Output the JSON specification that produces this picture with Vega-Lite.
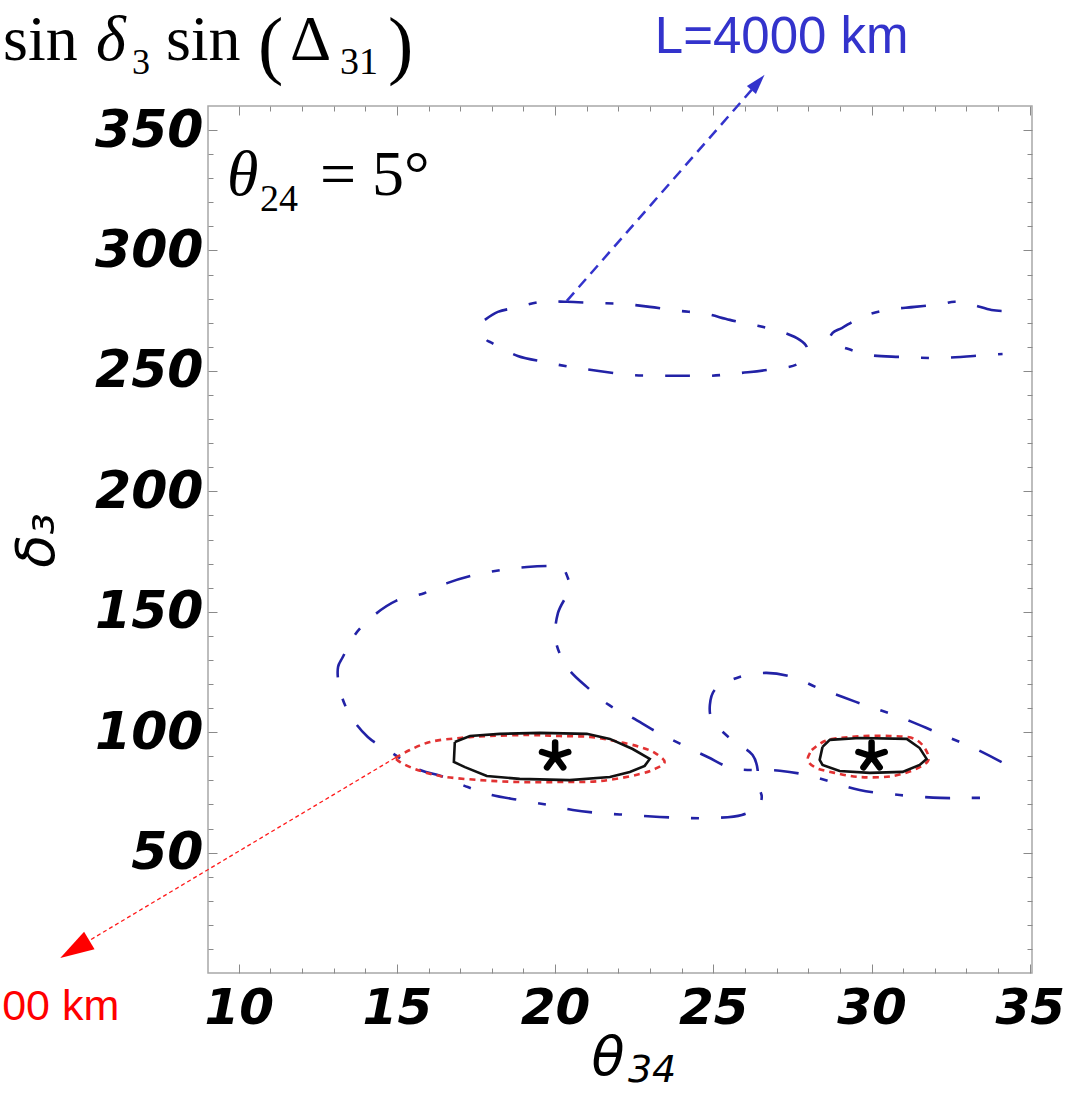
{
  "$schema": "https://vega.github.io/schema/vega-lite/v6.json",
  "width": 824,
  "height": 867,
  "autosize": {"type": "none"},
  "padding": {"left": 208, "top": 106, "right": 52, "bottom": 121},
  "background": "white",
  "config": {
    "view": {"stroke": "#a8a8a8", "strokeWidth": 1.5},
    "axis": {"domain": false, "grid": false, "tickColor": "#8a8a8a", "tickWidth": 1}
  },
  "datasets": {
    "blue": [
      {"c": "c1", "i": 0, "x": 34.11, "y": 87.6}, {"c": "c1", "i": 1, "x": 33.16, "y": 93.9}, {"c": "c1", "i": 2, "x": 32.40, "y": 98.0},
      {"c": "c1", "i": 3, "x": 31.58, "y": 102.6}, {"c": "c1", "i": 4, "x": 30.73, "y": 107.1}, {"c": "c1", "i": 5, "x": 29.94, "y": 110.5},
      {"c": "c1", "i": 6, "x": 29.09, "y": 114.6}, {"c": "c1", "i": 7, "x": 28.30, "y": 118.4}, {"c": "c1", "i": 8, "x": 27.51, "y": 122.9},
      {"c": "c1", "i": 9, "x": 26.65, "y": 124.6}, {"c": "c1", "i": 10, "x": 25.74, "y": 122.5}, {"c": "c1", "i": 11, "x": 25.04, "y": 117.5},
      {"c": "c1", "i": 12, "x": 24.89, "y": 111.3}, {"c": "c1", "i": 13, "x": 24.95, "y": 105.5}, {"c": "c1", "i": 14, "x": 25.58, "y": 96.8},
      {"c": "c1", "i": 15, "x": 26.24, "y": 90.5}, {"c": "c1", "i": 16, "x": 26.40, "y": 84.3}, {"c": "c1", "i": 17, "x": 26.37, "y": 79.3},
      {"c": "c1", "i": 18, "x": 26.53, "y": 73.1}, {"c": "c1", "i": 19, "x": 26.40, "y": 68.9}, {"c": "c1", "i": 20, "x": 25.90, "y": 65.6},
      {"c": "c1", "i": 21, "x": 25.11, "y": 64.4}, {"c": "c1", "i": 22, "x": 24.03, "y": 64.4}, {"c": "c1", "i": 23, "x": 23.31, "y": 64.8},
      {"c": "c1", "i": 24, "x": 22.36, "y": 65.6}, {"c": "c1", "i": 25, "x": 21.41, "y": 66.4}, {"c": "c1", "i": 26, "x": 20.56, "y": 67.7},
      {"c": "c1", "i": 27, "x": 19.77, "y": 69.8}, {"c": "c1", "i": 28, "x": 18.88, "y": 71.8}, {"c": "c1", "i": 29, "x": 18.00, "y": 73.9},
      {"c": "c1", "i": 30, "x": 17.24, "y": 77.2}, {"c": "c1", "i": 31, "x": 16.39, "y": 81.8}, {"c": "c1", "i": 32, "x": 15.73, "y": 84.3},
      {"c": "c1", "i": 33, "x": 14.84, "y": 91.4}, {"c": "c1", "i": 34, "x": 14.08, "y": 98.0}, {"c": "c1", "i": 35, "x": 13.52, "y": 107.1},
      {"c": "c1", "i": 36, "x": 13.20, "y": 117.5}, {"c": "c1", "i": 37, "x": 13.14, "y": 127.1}, {"c": "c1", "i": 38, "x": 13.29, "y": 131.2},
      {"c": "c1", "i": 39, "x": 13.67, "y": 140.4}, {"c": "c1", "i": 40, "x": 14.21, "y": 147.8}, {"c": "c1", "i": 41, "x": 14.97, "y": 154.5},
      {"c": "c1", "i": 42, "x": 15.88, "y": 157.8}, {"c": "c1", "i": 43, "x": 16.61, "y": 162.0}, {"c": "c1", "i": 44, "x": 17.46, "y": 165.3},
      {"c": "c1", "i": 45, "x": 18.32, "y": 167.4}, {"c": "c1", "i": 46, "x": 19.11, "y": 168.6}, {"c": "c1", "i": 47, "x": 19.93, "y": 169.0},
      {"c": "c1", "i": 48, "x": 20.21, "y": 168.6}, {"c": "c1", "i": 49, "x": 20.40, "y": 164.1}, {"c": "c1", "i": 50, "x": 20.46, "y": 159.9},
      {"c": "c1", "i": 51, "x": 20.09, "y": 149.5}, {"c": "c1", "i": 52, "x": 20.02, "y": 137.9}, {"c": "c1", "i": 53, "x": 20.40, "y": 126.7},
      {"c": "c1", "i": 54, "x": 21.00, "y": 118.8}, {"c": "c1", "i": 55, "x": 21.70, "y": 111.3}, {"c": "c1", "i": 56, "x": 22.45, "y": 105.9},
      {"c": "c1", "i": 57, "x": 23.21, "y": 100.1}, {"c": "c1", "i": 58, "x": 24.03, "y": 94.7}, {"c": "c1", "i": 59, "x": 24.82, "y": 89.7},
      {"c": "c1", "i": 60, "x": 25.58, "y": 85.1}, {"c": "c1", "i": 61, "x": 27.10, "y": 84.0}, {"c": "c1", "i": 62, "x": 27.95, "y": 82.2},
      {"c": "c1", "i": 63, "x": 28.74, "y": 79.3}, {"c": "c1", "i": 64, "x": 29.62, "y": 76.0}, {"c": "c1", "i": 65, "x": 30.89, "y": 73.9},
      {"c": "c1", "i": 66, "x": 32.18, "y": 72.7}, {"c": "c1", "i": 67, "x": 33.10, "y": 72.7}, {"c": "c1", "i": 68, "x": 33.89, "y": 72.7},

      {"c": "c2", "i": 0, "x": 17.78, "y": 271.2}, {"c": "c2", "i": 1, "x": 18.19, "y": 274.5}, {"c": "c2", "i": 2, "x": 18.73, "y": 276.2},
      {"c": "c2", "i": 3, "x": 19.58, "y": 278.7}, {"c": "c2", "i": 4, "x": 20.37, "y": 278.7}, {"c": "c2", "i": 5, "x": 21.25, "y": 278.2},
      {"c": "c2", "i": 6, "x": 22.14, "y": 277.8}, {"c": "c2", "i": 7, "x": 22.99, "y": 276.6}, {"c": "c2", "i": 8, "x": 23.88, "y": 275.0},
      {"c": "c2", "i": 9, "x": 24.73, "y": 273.8}, {"c": "c2", "i": 10, "x": 25.52, "y": 271.2}, {"c": "c2", "i": 11, "x": 26.40, "y": 268.8},
      {"c": "c2", "i": 12, "x": 27.25, "y": 265.8}, {"c": "c2", "i": 13, "x": 27.73, "y": 262.9}, {"c": "c2", "i": 14, "x": 27.95, "y": 260.0},
      {"c": "c2", "i": 15, "x": 27.92, "y": 256.6}, {"c": "c2", "i": 16, "x": 27.67, "y": 252.9}, {"c": "c2", "i": 17, "x": 26.69, "y": 250.4},
      {"c": "c2", "i": 18, "x": 25.90, "y": 249.2}, {"c": "c2", "i": 19, "x": 24.95, "y": 248.0}, {"c": "c2", "i": 20, "x": 24.03, "y": 248.0},
      {"c": "c2", "i": 21, "x": 23.31, "y": 248.0}, {"c": "c2", "i": 22, "x": 22.39, "y": 248.3}, {"c": "c2", "i": 23, "x": 21.38, "y": 250.0},
      {"c": "c2", "i": 24, "x": 20.46, "y": 251.7}, {"c": "c2", "i": 25, "x": 19.67, "y": 253.7}, {"c": "c2", "i": 26, "x": 18.82, "y": 256.2},
      {"c": "c2", "i": 27, "x": 18.00, "y": 261.6}, {"c": "c2", "i": 28, "x": 17.81, "y": 263.3}, {"c": "c2", "i": 29, "x": 17.78, "y": 271.2},

      {"c": "c3", "i": 0, "x": 34.11, "y": 274.9}, {"c": "c3", "i": 1, "x": 33.79, "y": 275.3}, {"c": "c3", "i": 2, "x": 33.10, "y": 277.8},
      {"c": "c3", "i": 3, "x": 32.62, "y": 278.7}, {"c": "c3", "i": 4, "x": 32.21, "y": 277.8}, {"c": "c3", "i": 5, "x": 31.36, "y": 276.6},
      {"c": "c3", "i": 6, "x": 30.48, "y": 275.3}, {"c": "c3", "i": 7, "x": 29.69, "y": 272.4}, {"c": "c3", "i": 8, "x": 29.06, "y": 267.8},
      {"c": "c3", "i": 9, "x": 28.77, "y": 265.8}, {"c": "c3", "i": 10, "x": 28.68, "y": 262.9}, {"c": "c3", "i": 11, "x": 28.99, "y": 260.4},
      {"c": "c3", "i": 12, "x": 29.15, "y": 259.6}, {"c": "c3", "i": 13, "x": 29.94, "y": 256.6}, {"c": "c3", "i": 14, "x": 30.89, "y": 255.8},
      {"c": "c3", "i": 15, "x": 32.15, "y": 255.4}, {"c": "c3", "i": 16, "x": 33.63, "y": 256.6}, {"c": "c3", "i": 17, "x": 34.14, "y": 257.0}
    ],
    "red": [
      {"c": "r1", "i": 0, "x": 14.94, "y": 89.3}, {"c": "r1", "i": 1, "x": 15.41, "y": 92.6}, {"c": "r1", "i": 2, "x": 16.04, "y": 95.9},
      {"c": "r1", "i": 3, "x": 16.99, "y": 97.6}, {"c": "r1", "i": 4, "x": 17.94, "y": 98.4}, {"c": "r1", "i": 5, "x": 19.20, "y": 98.8},
      {"c": "r1", "i": 6, "x": 20.15, "y": 98.4}, {"c": "r1", "i": 7, "x": 21.10, "y": 98.0}, {"c": "r1", "i": 8, "x": 21.89, "y": 96.3},
      {"c": "r1", "i": 9, "x": 22.67, "y": 93.9}, {"c": "r1", "i": 10, "x": 23.15, "y": 91.4}, {"c": "r1", "i": 11, "x": 23.46, "y": 87.6},
      {"c": "r1", "i": 12, "x": 23.15, "y": 84.7}, {"c": "r1", "i": 13, "x": 22.67, "y": 82.6}, {"c": "r1", "i": 14, "x": 21.41, "y": 79.7},
      {"c": "r1", "i": 15, "x": 20.15, "y": 79.3}, {"c": "r1", "i": 16, "x": 18.88, "y": 79.3}, {"c": "r1", "i": 17, "x": 17.62, "y": 80.1},
      {"c": "r1", "i": 18, "x": 16.36, "y": 81.8}, {"c": "r1", "i": 19, "x": 15.57, "y": 84.7}, {"c": "r1", "i": 20, "x": 15.10, "y": 87.6},
      {"c": "r1", "i": 21, "x": 14.94, "y": 89.3},

      {"c": "r2", "i": 0, "x": 28.11, "y": 92.6}, {"c": "r2", "i": 1, "x": 28.52, "y": 96.3}, {"c": "r2", "i": 2, "x": 29.31, "y": 98.0},
      {"c": "r2", "i": 3, "x": 30.57, "y": 98.4}, {"c": "r2", "i": 4, "x": 31.36, "y": 97.2}, {"c": "r2", "i": 5, "x": 31.68, "y": 93.4},
      {"c": "r2", "i": 6, "x": 31.80, "y": 88.5}, {"c": "r2", "i": 7, "x": 31.46, "y": 85.1}, {"c": "r2", "i": 8, "x": 30.67, "y": 81.8},
      {"c": "r2", "i": 9, "x": 29.62, "y": 81.4}, {"c": "r2", "i": 10, "x": 28.83, "y": 83.1}, {"c": "r2", "i": 11, "x": 28.20, "y": 85.5},
      {"c": "r2", "i": 12, "x": 27.98, "y": 88.5}, {"c": "r2", "i": 13, "x": 28.11, "y": 92.6}
    ],
    "black": [
      {"c": "k1", "i": 0, "x": 16.83, "y": 95.9}, {"c": "k1", "i": 1, "x": 17.31, "y": 98.4}, {"c": "k1", "i": 2, "x": 18.25, "y": 99.3},
      {"c": "k1", "i": 3, "x": 19.52, "y": 99.7}, {"c": "k1", "i": 4, "x": 21.00, "y": 99.3}, {"c": "k1", "i": 5, "x": 21.73, "y": 97.2},
      {"c": "k1", "i": 6, "x": 22.45, "y": 93.0}, {"c": "k1", "i": 7, "x": 22.99, "y": 88.9}, {"c": "k1", "i": 8, "x": 22.83, "y": 86.0},
      {"c": "k1", "i": 9, "x": 22.36, "y": 83.5}, {"c": "k1", "i": 10, "x": 21.73, "y": 81.4}, {"c": "k1", "i": 11, "x": 20.46, "y": 80.1},
      {"c": "k1", "i": 12, "x": 18.88, "y": 80.6}, {"c": "k1", "i": 13, "x": 17.84, "y": 81.8}, {"c": "k1", "i": 14, "x": 17.15, "y": 85.5},
      {"c": "k1", "i": 15, "x": 16.80, "y": 87.6}, {"c": "k1", "i": 16, "x": 16.83, "y": 95.9},

      {"c": "k2", "i": 0, "x": 28.45, "y": 93.9}, {"c": "k2", "i": 1, "x": 28.68, "y": 96.8}, {"c": "k2", "i": 2, "x": 29.62, "y": 97.6},
      {"c": "k2", "i": 3, "x": 31.11, "y": 97.2}, {"c": "k2", "i": 4, "x": 31.52, "y": 93.4}, {"c": "k2", "i": 5, "x": 31.74, "y": 88.9},
      {"c": "k2", "i": 6, "x": 31.52, "y": 86.4}, {"c": "k2", "i": 7, "x": 30.98, "y": 83.5}, {"c": "k2", "i": 8, "x": 29.94, "y": 83.1},
      {"c": "k2", "i": 9, "x": 28.99, "y": 83.9}, {"c": "k2", "i": 10, "x": 28.45, "y": 86.4}, {"c": "k2", "i": 11, "x": 28.36, "y": 88.5},
      {"c": "k2", "i": 12, "x": 28.45, "y": 93.9}
    ],
    "bestfit": [
      {"theta34": 20, "delta3": 90},
      {"theta34": 30, "delta3": 90}
    ],
    "leaderBlue": [
      {"i": 0, "x": 20.37, "y": 279.1},
      {"i": 1, "x": 26.21, "y": 366.7}
    ],
    "leaderRed": [
      {"i": 0, "x": 14.94, "y": 89.3},
      {"i": 1, "x": 5.28, "y": 13.5}
    ],
    "one": [{}]
  },
  "resolve": {"axis": {"x": "independent", "y": "independent"}},
  "layer": [
    {
      "data": {"name": "blue"},
      "mark": {"type": "line", "color": "#2222a6", "strokeWidth": 2.6, "strokeDash": [25, 22, 8, 22], "interpolate": "catmull-rom"},
      "encoding": {
        "x": {
          "field": "x", "type": "quantitative",
          "scale": {"domain": [9.03, 35.07], "nice": false, "zero": false},
          "axis": {
            "orient": "bottom",
            "values": [10, 11, 12, 13, 14, 15, 16, 17, 18, 19, 20, 21, 22, 23, 24, 25, 26, 27, 28, 29, 30, 31, 32, 33, 34, 35],
            "labelExpr": "datum.value % 5 === 0 ? datum.label : ''",
            "tickSize": {"condition": {"test": "datum.value % 5 === 0", "value": -9}, "value": -5},
            "labelFont": "DejaVu Sans", "labelFontWeight": "bold", "labelFontStyle": "italic",
            "labelFontSize": 50, "labelColor": "black", "labelPadding": 19,
            "labelOverlap": false, "labelFlush": false,
            "title": null
          }
        },
        "y": {
          "field": "y", "type": "quantitative",
          "scale": {"domain": [0, 360], "nice": false, "zero": false},
          "axis": {
            "orient": "left",
            "values": [10, 20, 30, 40, 50, 60, 70, 80, 90, 100, 110, 120, 130, 140, 150, 160, 170, 180, 190, 200, 210, 220, 230, 240, 250, 260, 270, 280, 290, 300, 310, 320, 330, 340, 350],
            "labelExpr": "datum.value % 50 === 0 ? datum.label : ''",
            "tickSize": {"condition": {"test": "datum.value % 50 === 0", "value": -9}, "value": -5},
            "labelFont": "DejaVu Sans", "labelFontWeight": "bold", "labelFontStyle": "italic",
            "labelFontSize": 52, "labelColor": "black", "labelPadding": 14,
            "labelOverlap": false, "labelFlush": false,
            "title": "δ₃", "titleFont": "DejaVu Sans", "titleFontStyle": "italic", "titleFontWeight": "normal",
            "titleFontSize": 54, "titleColor": "black", "titleX": -171, "titleY": 434,
            "titleAlign": "center", "titleBaseline": "middle", "titleAngle": -90
          }
        },
        "detail": {"field": "c"},
        "order": {"field": "i", "type": "quantitative"}
      }
    },
    {
      "data": {"name": "red"},
      "mark": {"type": "line", "color": "#e23232", "strokeWidth": 2.6, "strokeDash": [6, 5], "interpolate": "catmull-rom"},
      "encoding": {
        "x": {
          "field": "x", "type": "quantitative",
          "axis": {
            "orient": "top",
            "values": [10, 11, 12, 13, 14, 15, 16, 17, 18, 19, 20, 21, 22, 23, 24, 25, 26, 27, 28, 29, 30, 31, 32, 33, 34, 35],
            "labels": false, "title": null,
            "tickSize": {"condition": {"test": "datum.value % 5 === 0", "value": -9}, "value": -5}
          }
        },
        "y": {
          "field": "y", "type": "quantitative",
          "axis": {
            "orient": "right",
            "values": [10, 20, 30, 40, 50, 60, 70, 80, 90, 100, 110, 120, 130, 140, 150, 160, 170, 180, 190, 200, 210, 220, 230, 240, 250, 260, 270, 280, 290, 300, 310, 320, 330, 340, 350],
            "labels": false, "title": null,
            "tickSize": {"condition": {"test": "datum.value % 50 === 0", "value": -9}, "value": -5}
          }
        },
        "detail": {"field": "c"},
        "order": {"field": "i", "type": "quantitative"}
      }
    },
    {
      "data": {"name": "black"},
      "mark": {"type": "line", "color": "#111111", "strokeWidth": 2.6},
      "encoding": {
        "x": {"field": "x", "type": "quantitative", "axis": null},
        "y": {"field": "y", "type": "quantitative", "axis": null},
        "detail": {"field": "c"},
        "order": {"field": "i", "type": "quantitative"}
      }
    },
    {
      "data": {"name": "leaderBlue"},
      "mark": {"type": "line", "color": "#3333cc", "strokeWidth": 2.5, "strokeDash": [11, 7]},
      "encoding": {
        "x": {"field": "x", "type": "quantitative", "axis": null},
        "y": {"field": "y", "type": "quantitative", "axis": null},
        "order": {"field": "i", "type": "quantitative"}
      }
    },
    {
      "data": {"name": "leaderRed"},
      "mark": {"type": "line", "color": "#ff1a1a", "strokeWidth": 1.3, "strokeDash": [4, 3]},
      "encoding": {
        "x": {"field": "x", "type": "quantitative", "axis": null},
        "y": {"field": "y", "type": "quantitative", "axis": null},
        "order": {"field": "i", "type": "quantitative"}
      }
    },
    {
      "data": {"name": "one"},
      "mark": {"type": "point", "shape": "M0,-1L0.6,1L-0.6,1Z", "filled": true, "color": "#3333cc", "opacity": 1, "size": 400, "angle": 41},
      "encoding": {
        "x": {"datum": 26.41, "type": "quantitative", "axis": null},
        "y": {"datum": 369.8, "type": "quantitative", "axis": null}
      }
    },
    {
      "data": {"name": "one"},
      "mark": {"type": "point", "shape": "M0,-1L0.6,1L-0.6,1Z", "filled": true, "color": "#ff0000", "opacity": 1, "size": 1150, "angle": 239},
      "encoding": {
        "x": {"datum": 4.82, "type": "quantitative", "axis": null},
        "y": {"datum": 9.84, "type": "quantitative", "axis": null}
      }
    },
    {
      "data": {"name": "bestfit"},
      "mark": {
        "type": "point",
        "shape": "M0,0L0,-1M0,0L0.951,-0.309M0,0L0.588,0.809M0,0L-0.588,0.809M0,0L-0.951,-0.309",
        "filled": false, "stroke": "#000000", "strokeWidth": 6.5, "strokeCap": "round", "opacity": 1, "size": 760
      },
      "encoding": {
        "x": {"field": "theta34", "type": "quantitative", "axis": null},
        "y": {"field": "delta3", "type": "quantitative", "axis": null}
      }
    },
    {
      "data": {"name": "one"},
      "mark": {"type": "text", "text": "θ", "font": "DejaVu Sans", "fontStyle": "italic", "fontSize": 54, "align": "left", "baseline": "alphabetic", "color": "black"},
      "encoding": {"x": {"datum": 21.15, "type": "quantitative", "axis": null}, "y": {"datum": -42.4, "type": "quantitative", "axis": null}}
    },
    {
      "data": {"name": "one"},
      "mark": {"type": "text", "text": "34", "font": "DejaVu Sans", "fontStyle": "italic", "fontSize": 38, "align": "left", "baseline": "alphabetic", "color": "black"},
      "encoding": {"x": {"datum": 22.30, "type": "quantitative", "axis": null}, "y": {"datum": -45.3, "type": "quantitative", "axis": null}}
    },
    {
      "data": {"name": "one"},
      "mark": {"type": "text", "text": "θ", "font": "Liberation Serif", "fontStyle": "italic", "fontSize": 64, "align": "left", "baseline": "alphabetic", "color": "black"},
      "encoding": {"x": {"datum": 9.63, "type": "quantitative", "axis": null}, "y": {"datum": 323.1, "type": "quantitative", "axis": null}}
    },
    {
      "data": {"name": "one"},
      "mark": {"type": "text", "text": "24", "font": "Liberation Serif", "fontSize": 38, "align": "left", "baseline": "alphabetic", "color": "black"},
      "encoding": {"x": {"datum": 10.67, "type": "quantitative", "axis": null}, "y": {"datum": 316.4, "type": "quantitative", "axis": null}}
    },
    {
      "data": {"name": "one"},
      "mark": {"type": "text", "text": "= 5°", "font": "Liberation Serif", "fontSize": 64, "align": "left", "baseline": "alphabetic", "color": "black"},
      "encoding": {"x": {"datum": 12.57, "type": "quantitative", "axis": null}, "y": {"datum": 323.1, "type": "quantitative", "axis": null}}
    },
    {
      "data": {"name": "one"},
      "mark": {"type": "text", "text": "L=4000 km", "font": "Liberation Sans", "fontSize": 51, "align": "left", "baseline": "alphabetic", "color": "#3333cc"},
      "encoding": {"x": {"datum": 23.15, "type": "quantitative", "axis": null}, "y": {"datum": 382.1, "type": "quantitative", "axis": null}}
    },
    {
      "data": {"name": "one"},
      "mark": {"type": "text", "text": "00 km", "font": "Liberation Sans", "fontSize": 43, "align": "left", "baseline": "alphabetic", "color": "#ff0000"},
      "encoding": {"x": {"datum": 2.524, "type": "quantitative", "axis": null}, "y": {"datum": -19.5, "type": "quantitative", "axis": null}}
    },
    {
      "data": {"name": "one"},
      "mark": {"type": "text", "text": "sin", "font": "Liberation Serif", "fontSize": 64, "align": "left", "baseline": "alphabetic", "color": "black"},
      "encoding": {"x": {"datum": 2.555, "type": "quantitative", "axis": null}, "y": {"datum": 379.2, "type": "quantitative", "axis": null}}
    },
    {
      "data": {"name": "one"},
      "mark": {"type": "text", "text": "δ", "font": "Liberation Serif", "fontStyle": "italic", "fontSize": 64, "align": "left", "baseline": "alphabetic", "color": "black"},
      "encoding": {"x": {"datum": 5.49, "type": "quantitative", "axis": null}, "y": {"datum": 379.2, "type": "quantitative", "axis": null}}
    },
    {
      "data": {"name": "one"},
      "mark": {"type": "text", "text": "3", "font": "Liberation Serif", "fontSize": 36, "align": "left", "baseline": "alphabetic", "color": "black"},
      "encoding": {"x": {"datum": 6.63, "type": "quantitative", "axis": null}, "y": {"datum": 373.3, "type": "quantitative", "axis": null}}
    },
    {
      "data": {"name": "one"},
      "mark": {"type": "text", "text": "sin", "font": "Liberation Serif", "fontSize": 64, "align": "left", "baseline": "alphabetic", "color": "black"},
      "encoding": {"x": {"datum": 7.70, "type": "quantitative", "axis": null}, "y": {"datum": 379.2, "type": "quantitative", "axis": null}}
    },
    {
      "data": {"name": "one"},
      "mark": {"type": "text", "text": "(", "font": "Liberation Serif", "fontSize": 76, "align": "left", "baseline": "alphabetic", "color": "black"},
      "encoding": {"x": {"datum": 10.61, "type": "quantitative", "axis": null}, "y": {"datum": 375.0, "type": "quantitative", "axis": null}}
    },
    {
      "data": {"name": "one"},
      "mark": {"type": "text", "text": "Δ", "font": "Liberation Serif", "fontSize": 64, "align": "left", "baseline": "alphabetic", "color": "black"},
      "encoding": {"x": {"datum": 11.62, "type": "quantitative", "axis": null}, "y": {"datum": 379.2, "type": "quantitative", "axis": null}}
    },
    {
      "data": {"name": "one"},
      "mark": {"type": "text", "text": "31", "font": "Liberation Serif", "fontSize": 38, "align": "left", "baseline": "alphabetic", "color": "black"},
      "encoding": {"x": {"datum": 13.20, "type": "quantitative", "axis": null}, "y": {"datum": 373.3, "type": "quantitative", "axis": null}}
    },
    {
      "data": {"name": "one"},
      "mark": {"type": "text", "text": ")", "font": "Liberation Serif", "fontSize": 76, "align": "left", "baseline": "alphabetic", "color": "black"},
      "encoding": {"x": {"datum": 14.72, "type": "quantitative", "axis": null}, "y": {"datum": 375.0, "type": "quantitative", "axis": null}}
    }
  ]
}
